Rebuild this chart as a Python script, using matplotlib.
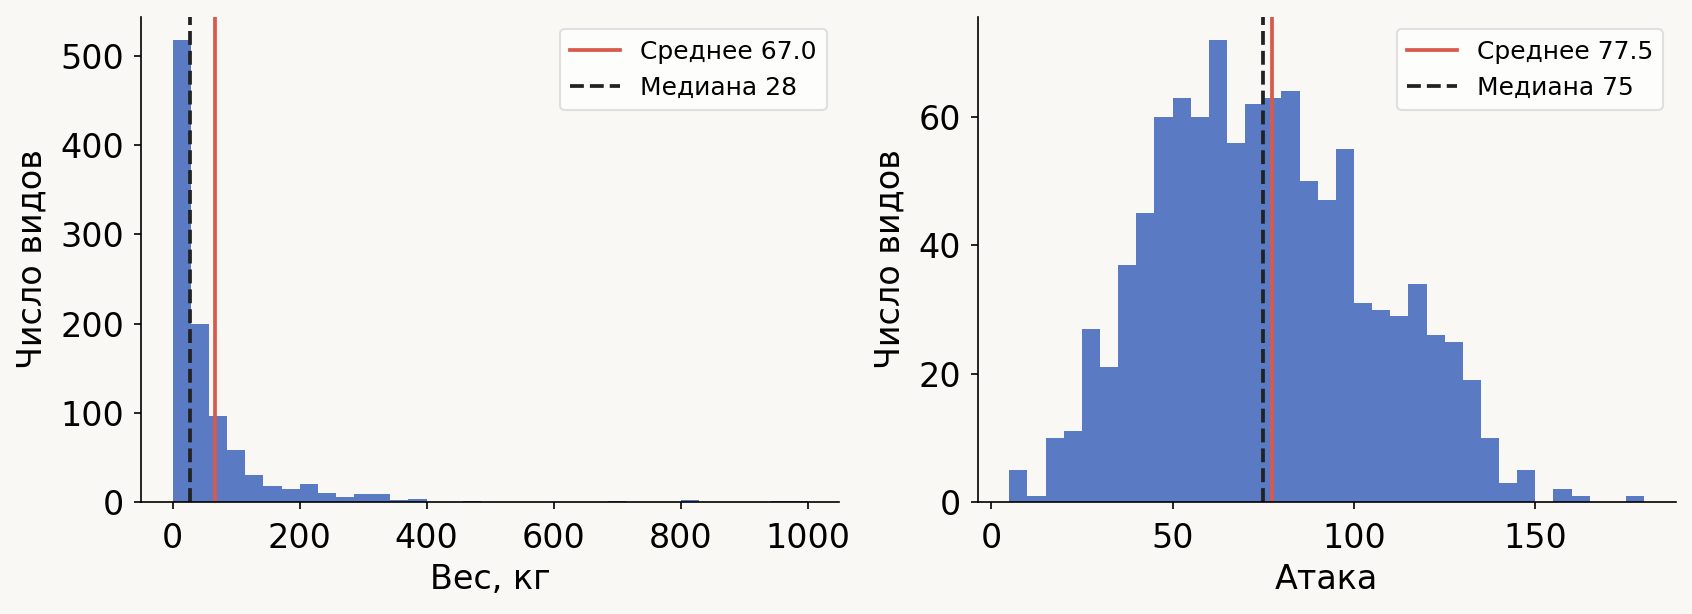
import numpy as np
import matplotlib.pyplot as plt

plt.rcParams.update({
    'font.family': 'DejaVu Sans',
    'font.size': 16,
    'xtick.major.pad': 6,
    'ytick.major.pad': 4.5,
})

BG = '#faf8f4'
BAR = '#5a7ac4'
RED = '#d85a4d'
DARK = '#222222'

# ── data: histogram counts (1025 species) ─────────────────────────────────
weight_min, weight_max, weight_bins = 0.1, 999.9, 35
weight_counts = [518, 200, 97, 58, 30, 18, 15, 20, 10, 6,
                 9, 9, 2, 3, 0, 0, 1, 0, 0, 0,
                 0, 0, 0, 0, 1, 0, 0, 0, 2, 0,
                 0, 0, 0, 1, 1]
weight_mean, weight_median = 67.0, 28

attack_min, attack_max, attack_bins = 5, 180, 35
attack_counts = [5, 1, 10, 11, 27, 21, 37, 45, 60, 63,
                 60, 72, 56, 62, 63, 64, 50, 47, 55, 31,
                 30, 29, 34, 26, 25, 19, 10, 3, 5, 0,
                 2, 1, 0, 0, 1]
attack_mean, attack_median = 77.5, 75

panels = [
    (weight_min, weight_max, weight_bins, weight_counts,
     weight_mean, f'{weight_mean:.1f}', weight_median, 'Вес, кг'),
    (attack_min, attack_max, attack_bins, attack_counts,
     attack_mean, f'{attack_mean:.1f}', attack_median, 'Атака'),
]

fig, axes = plt.subplots(1, 2, figsize=(11.28, 4.0934), dpi=150)
fig.patch.set_facecolor(BG)
fig.subplots_adjust(left=0.0833, right=0.9905, bottom=0.1824, top=0.9723,
                    wspace=0.198)

for ax, (lo, hi, nb, counts, mean, mean_txt, median, xlabel) in zip(axes, panels):
    ax.set_facecolor(BG)
    edges = np.linspace(lo, hi, nb + 1)
    centers = (edges[:-1] + edges[1:]) / 2
    ax.hist(centers, bins=edges, weights=counts, color=BAR, edgecolor='none')
    ax.axvline(mean, color=RED, lw=1.8, label=f'Среднее {mean_txt}')
    ax.axvline(median, color=DARK, lw=1.8, ls='--', label=f'Медиана {median}')
    ax.set_xlabel(xlabel)
    ax.set_ylabel('Число видов', labelpad=5.5)
    ax.spines[['top', 'right']].set_visible(False)
    ax.legend(loc='upper right', fontsize=12, facecolor='white',
              edgecolor='#d9d9d9')

plt.savefig('out.png', dpi=150, facecolor=BG)
